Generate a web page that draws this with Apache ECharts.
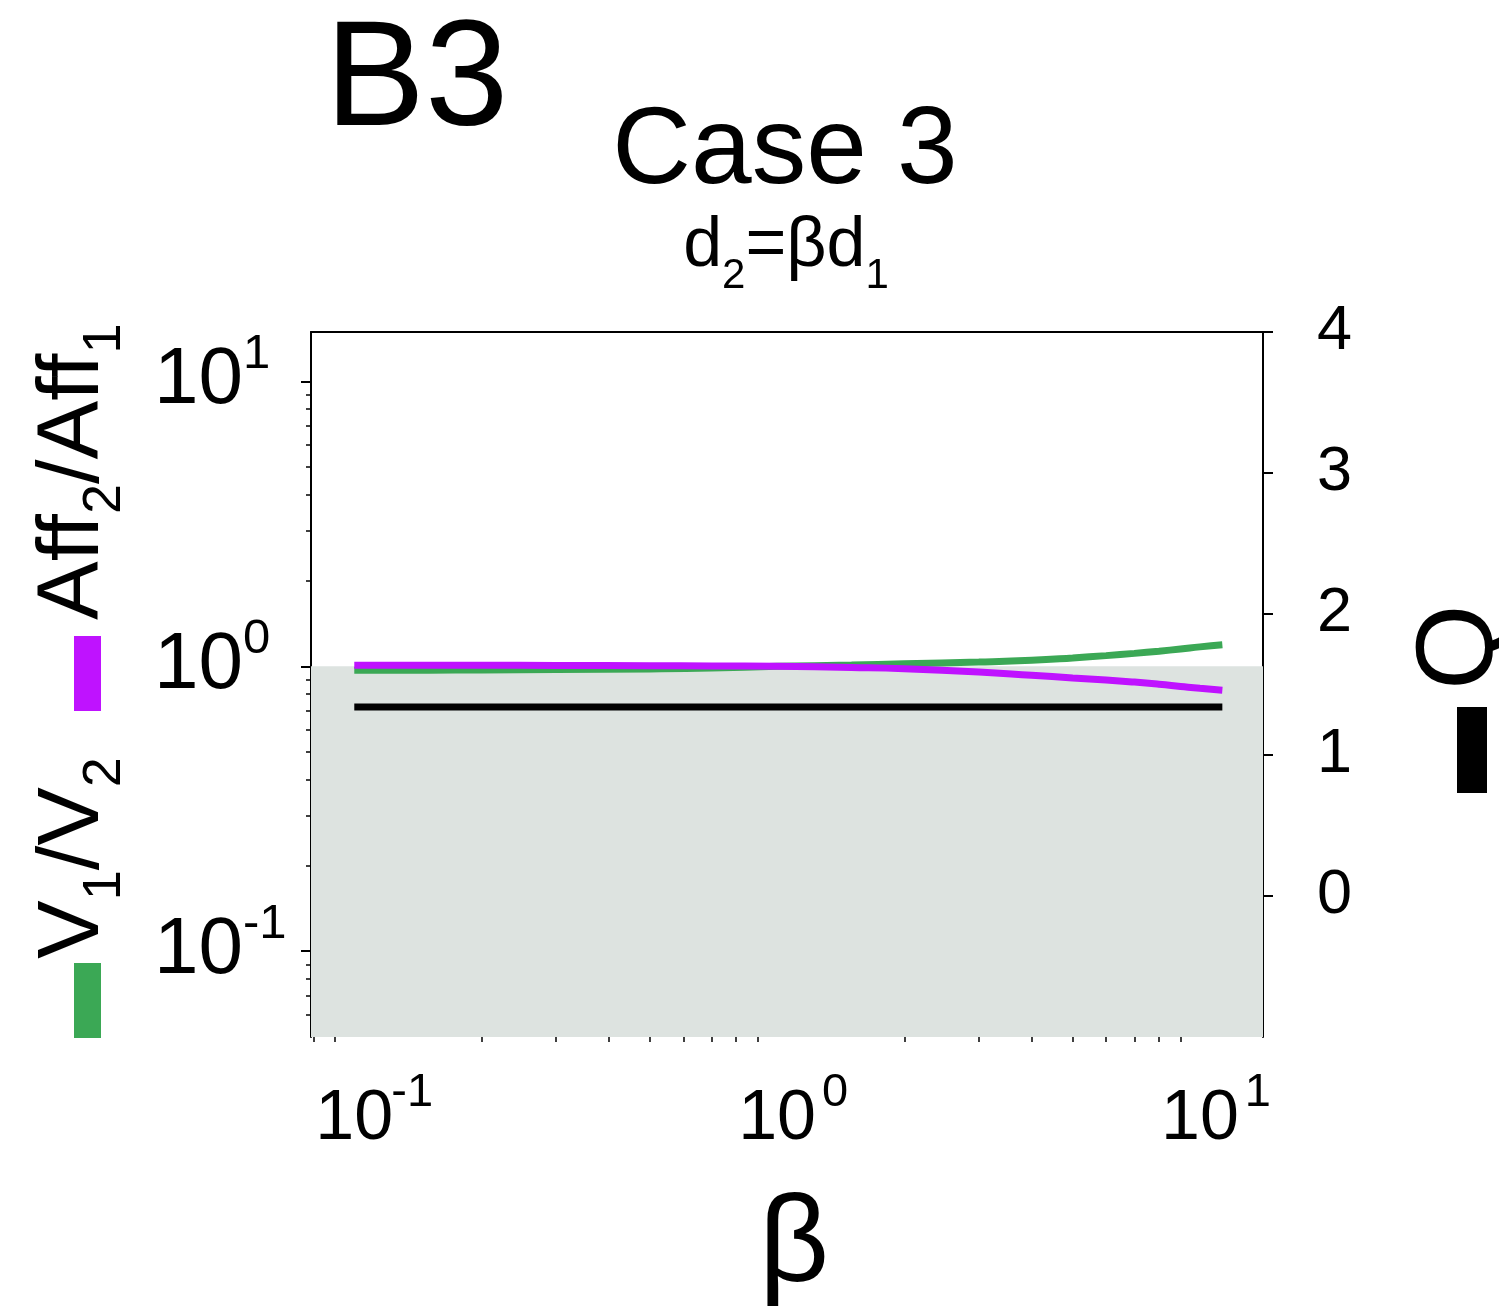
<!DOCTYPE html>
<html>
<head>
<meta charset="utf-8">
<script src="https://cdn.jsdelivr.net/npm/echarts@6/dist/echarts.min.js"></script>
<style>
  html, body { margin: 0; padding: 0; background: #ffffff; }
  #chart { width: 1499px; height: 1307px; }
</style>
</head>
<body>
<div id="chart"></div>
<script>
// beta sweep (d2 = beta * d1)
const beta = [0.1, 0.15, 0.2, 0.3, 0.5, 0.7, 1, 1.5, 2, 3, 4, 5, 6, 7, 8, 9, 10, 11.3];
// V1/V2 (green)
const volumeRatio = [0.968, 0.969, 0.971, 0.974, 0.979, 0.986, 1.0, 1.01, 1.02, 1.035, 1.05, 1.07, 1.09, 1.11, 1.13, 1.15, 1.17, 1.19];
// Aff2/Aff1 (purple)
const affinityRatio = [1.008, 1.008, 1.008, 1.007, 1.005, 1.003, 1.0, 0.99, 0.98, 0.955, 0.93, 0.91, 0.895, 0.88, 0.865, 0.85, 0.837, 0.824];
// Q (black, right axis)
const qValues = [1.34, 1.34, 1.34, 1.34, 1.34, 1.34, 1.34, 1.34, 1.34, 1.34, 1.34, 1.34, 1.34, 1.34, 1.34, 1.34, 1.34, 1.34];

// axis ranges and ticks
const betaRange = [0.079, 14.1];
const ratioRange = [0.05, 14.9];
const qRange = [-1, 4];
const betaMajor = [0.1, 1, 10];
const betaMinor = [0.08, 0.09, 0.2, 0.3, 0.4, 0.5, 0.6, 0.7, 0.8, 0.9, 2, 3, 4, 5, 6, 7, 8, 9];
const ratioMajor = [0.1, 1, 10];
const ratioMinor = [0.06, 0.07, 0.08, 0.09, 0.2, 0.3, 0.4, 0.5, 0.6, 0.7, 0.8, 0.9, 2, 3, 4, 5, 6, 7, 8, 9];
const qTicks = [0, 1, 2, 3, 4];
// shaded band: ratio below 1
const shadeBand = [0.05, 1];

const FONT = "'Liberation Sans', Arial, Helvetica, sans-serif";
const GREEN = '#3ba855';
const PURPLE = '#bf12ff';
const GREY = '#dde3e0';

function expText(v) {
  const e = Math.round(Math.log10(v));
  return e < 0 ? '-' + (-e) : String(e);
}
function powerLabel(v) {
  return '{p|}{b|10}{e|' + expText(v) + '}';
}
function powerLabelLeft(v) {
  return '{b|10}{e|' + expText(v) + '}';
}

const chart = echarts.init(document.getElementById('chart'), null, { renderer: 'canvas' });

const option = {
  backgroundColor: '#ffffff',
  animation: false,
  grid: { left: 311, right: 236, top: 332, bottom: 270, outerBoundsMode: 'none', containLabel: false },
  xAxis: [
    {
      type: 'log', position: 'bottom', min: betaRange[0], max: betaRange[1],
      axisLine: { show: true, lineStyle: { color: '#000', width: 2 } },
      axisTick: { show: true, length: 10, lineStyle: { color: '#000', width: 2 }, customValues: betaMajor },
      axisLabel: {
        show: true, margin: 48, customValues: betaMajor, formatter: powerLabel,
        rich: {
          p: { width: 38 },
          b: { fontSize: 70, lineHeight: 70, fontFamily: FONT, color: '#000' },
          e: { fontSize: 47, height: 16, verticalAlign: 'top', fontFamily: FONT, color: '#000', width: 38, align: 'left' }
        }
      },
      splitLine: { show: false },
      name: 'β', nameLocation: 'middle', nameGap: 149,
      nameTextStyle: { fontSize: 122, lineHeight: 122, fontFamily: FONT, color: '#000', padding: [0, 0, 0, 14] }
    },
    {
      type: 'log', position: 'bottom', min: betaRange[0], max: betaRange[1],
      axisLine: { show: false },
      axisTick: { show: true, length: 5, lineStyle: { color: '#000', width: 1.5 }, customValues: betaMinor },
      axisLabel: { show: false },
      splitLine: { show: false }
    },
    {
      type: 'log', position: 'top', min: betaRange[0], max: betaRange[1],
      axisLine: { show: true, lineStyle: { color: '#000', width: 2 } },
      axisTick: { show: false }, axisLabel: { show: false }, splitLine: { show: false }
    }
  ],
  yAxis: [
    {
      type: 'log', position: 'left', min: ratioRange[0], max: ratioRange[1],
      axisLine: { show: true, lineStyle: { color: '#000', width: 2 } },
      axisTick: { show: true, length: 10, lineStyle: { color: '#000', width: 2 }, customValues: ratioMajor },
      axisLabel: {
        show: true, margin: 157, align: 'left', customValues: ratioMajor, formatter: powerLabelLeft,
        rich: {
          b: { fontSize: 80, lineHeight: 80, fontFamily: FONT, color: '#000' },
          e: { fontSize: 49, height: 26, verticalAlign: 'top', fontFamily: FONT, color: '#000' }
        }
      },
      splitLine: { show: false }
    },
    {
      type: 'log', position: 'left', min: ratioRange[0], max: ratioRange[1],
      axisLine: { show: false },
      axisTick: { show: true, length: 5, lineStyle: { color: '#000', width: 1.5 }, customValues: ratioMinor },
      axisLabel: { show: false },
      splitLine: { show: false }
    },
    {
      type: 'value', position: 'right', min: qRange[0], max: qRange[1], interval: 1,
      axisLine: { show: true, lineStyle: { color: '#000', width: 2 } },
      axisTick: { show: true, length: 10, lineStyle: { color: '#000', width: 2 }, customValues: qTicks },
      axisLabel: { show: true, margin: 54, customValues: qTicks, fontSize: 63, fontFamily: FONT, color: '#000' },
      splitLine: { show: false }
    }
  ],
  series: [
    {
      name: 'band', type: 'line', xAxisIndex: 0, yAxisIndex: 0, data: [], z: 1, silent: true,
      markArea: {
        silent: true,
        itemStyle: { color: GREY, opacity: 1 },
        data: [[{ yAxis: shadeBand[0] }, { yAxis: shadeBand[1] }]]
      }
    },
    {
      name: 'V1/V2', type: 'line', xAxisIndex: 0, yAxisIndex: 0, z: 3,
      data: beta.map((b, i) => [b, volumeRatio[i]]),
      smooth: true, showSymbol: false,
      lineStyle: { color: GREEN, width: 7 }
    },
    {
      name: 'Aff2/Aff1', type: 'line', xAxisIndex: 0, yAxisIndex: 0, z: 4,
      data: beta.map((b, i) => [b, affinityRatio[i]]),
      smooth: true, showSymbol: false,
      lineStyle: { color: PURPLE, width: 7 }
    },
    {
      name: 'Q', type: 'line', xAxisIndex: 0, yAxisIndex: 2, z: 3,
      data: beta.map((b, i) => [b, qValues[i]]),
      showSymbol: false,
      lineStyle: { color: '#000', width: 7 }
    }
  ],
  graphic: [
    // panel tag and titles
    { type: 'text', x: 325, y: 84, style: { text: 'B3', fontSize: 150, fontFamily: FONT, fill: '#000', align: 'left', verticalAlign: 'middle' } },
    { type: 'text', x: 785, y: 153, style: { text: 'Case 3', fontSize: 109, fontFamily: FONT, fill: '#000', align: 'center', verticalAlign: 'middle' } },
    {
      type: 'text', x: 786, y: 247,
      style: {
        text: '{m|d}{s|2}{m|=βd}{s|1}', align: 'center', verticalAlign: 'middle', fill: '#000',
        rich: {
          m: { fontSize: 70, lineHeight: 70, fontFamily: FONT, color: '#000' },
          s: { fontSize: 42, height: 11, verticalAlign: 'bottom', fontFamily: FONT, color: '#000' }
        }
      }
    },
    // left axis title with colour keys
    { type: 'rect', shape: { x: 74, y: 963, width: 27, height: 75 }, style: { fill: GREEN } },
    { type: 'rect', shape: { x: 74, y: 636, width: 27, height: 75 }, style: { fill: PURPLE } },
    {
      type: 'group', x: 74, y: 1038, rotation: Math.PI / 2,
      children: [
        {
          type: 'text', x: 79, y: 0,
          style: {
            text: '{m|V}{s|1}{m|/V}{s|2}', align: 'left', verticalAlign: 'middle', fill: '#000',
            rich: {
              m: { fontSize: 88, lineHeight: 88, fontFamily: FONT, color: '#000' },
              s: { fontSize: 54, height: 26, verticalAlign: 'bottom', fontFamily: FONT, color: '#000' }
            }
          }
        },
        {
          type: 'text', x: 418, y: 0,
          style: {
            text: '{m|Aff}{s|2}{m|/Aff}{s|1}', align: 'left', verticalAlign: 'middle', fill: '#000',
            rich: {
              m: { fontSize: 88, lineHeight: 88, fontFamily: FONT, color: '#000' },
              s: { fontSize: 54, height: 26, verticalAlign: 'bottom', fontFamily: FONT, color: '#000' }
            }
          }
        }
      ]
    },
    // right axis title with colour key
    { type: 'rect', shape: { x: 1457, y: 707, width: 30, height: 86 }, style: { fill: '#000' } },
    {
      type: 'group', x: 1462, y: 690, rotation: Math.PI / 2,
      children: [
        { type: 'text', x: 0, y: 0, style: { text: 'Q', fontSize: 110, fontFamily: FONT, fill: '#000', align: 'left', verticalAlign: 'middle' } }
      ]
    }
  ]
};

chart.setOption(option);
</script>
</body>
</html>
